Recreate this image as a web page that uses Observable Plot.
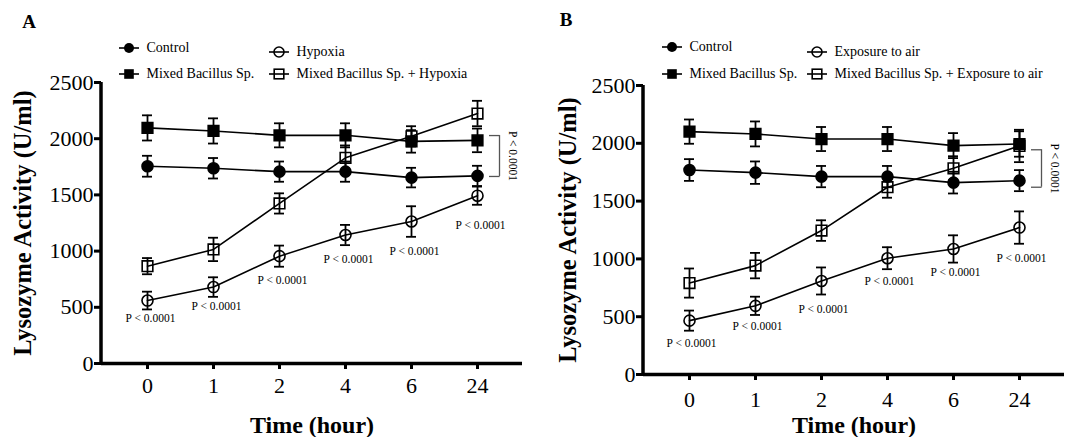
<!DOCTYPE html>
<html>
<head>
<meta charset="utf-8">
<script src="https://cdn.jsdelivr.net/npm/d3@7"></script>
<script src="https://cdn.jsdelivr.net/npm/@observablehq/plot@0.6"></script>
<style>
  body { margin: 0; background: #fff; }
  #wrap { position: relative; width: 1072px; height: 437px; overflow: hidden; background: #fff;
          font-family: "Liberation Serif", "Times New Roman", serif; color: #000; }
  .panel { position: absolute; top: 0; }
  .letter { position: absolute; font-weight: bold; font-size: 19px; line-height: 19px; transform: translate(-50%, -50%); }
  .leg { position: absolute; height: 16px; display: flex; align-items: center; white-space: nowrap; font-size: 14px; }
  .leg span { margin-left: 6.5px; }
</style>
</head>
<body>
<div id="wrap"></div>
<script>
// ---------------- data ----------------
const times = ["0", "1", "2", "4", "6", "24"];
const yTicks = [0, 500, 1000, 1500, 2000, 2500];
const pText = "P < 0.0001";

// Panel A
const seriesA = ["Control", "Mixed Bacillus Sp.", "Hypoxia", "Mixed Bacillus Sp. + Hypoxia"];
const controlA = [1755, 1737, 1707, 1707, 1654, 1669];
const controlAErr = [93, 91, 90, 90, 87, 90];
const mixedA = [2096, 2069, 2030, 2030, 1976, 1985];
const mixedAErr = [112, 112, 107, 107, 100, 105];
const hypoxiaA = [560, 680, 955, 1143, 1263, 1493];
const hypoxiaAErr = [79, 87, 94, 90, 136, 81];
const mixedHypoxiaA = [866, 1015, 1424, 1830, 2021, 2224];
const mixedHypoxiaAErr = [72, 104, 90, 110, 90, 113];
const pLabelYA = [399, 512, 741, 925, 996, 1231];
const bracketA = [1664, 2028];

// Panel B
const seriesB = ["Control", "Mixed Bacillus Sp.", "Exposure to air", "Mixed Bacillus Sp. + Exposure to air"];
const controlB = [1769, 1746, 1712, 1712, 1660, 1677];
const controlBErr = [94, 97, 92, 92, 94, 91];
const mixedB = [2101, 2081, 2037, 2037, 1980, 1994];
const mixedBErr = [105, 108, 104, 104, 108, 110];
const airB = [466, 594, 809, 1006, 1086, 1271];
const airBErr = [87, 79, 117, 95, 118, 140];
const mixedAirB = [791, 942, 1245, 1620, 1784, 1977];
const mixedAirBErr = [126, 110, 89, 91, 104, 140];
const pLabelYB = [272, 415, 565, 809, 885, 1005];
const bracketB = [1620, 1944];

// ---------------- helpers ----------------
const kinds = ["filledCircle", "filledSquare", "openCircle", "openSquare"];

function rows(names, means, errs) {
  const out = [];
  names.forEach((name, s) => {
    times.forEach((t, i) => out.push({series: name, kind: kinds[s], time: t, mean: means[s][i], err: errs[s][i]}));
  });
  return out;
}

function panel(cfg) {
  const data = rows(cfg.names, cfg.means, cfg.errs);
  const pData = times.map((t, i) => ({time: t, y: cfg.pY[i]}));
  const last = times[times.length - 1];
  const br = [{time: last, y1: cfg.bracket[0], y2: cfg.bracket[1]}];
  const plotW = cfg.width - cfg.mL - cfg.mR;
  const dots = (kind, symbol, fill, r) =>
    Plot.dot(data.filter(d => d.kind === kind), {x: "time", y: "mean", symbol, r,
      fill, stroke: "black", strokeWidth: 1.6});
  const cap = (yf) => Plot.ruleY(data, {x1: "time", x2: "time", y: yf, insetLeft: -5, insetRight: -5, stroke: "black", strokeWidth: 1.8});
  return Plot.plot({
    width: cfg.width, height: cfg.height,
    marginLeft: cfg.mL, marginRight: cfg.mR, marginTop: cfg.mT, marginBottom: cfg.mB,
    style: {fontFamily: '"Liberation Serif", "Times New Roman", serif', fontSize: "22px", background: "white", color: "black", overflow: "visible"},
    x: {type: "point", domain: times, padding: 0.675},
    y: {domain: [0, 2500]},
    marks: [
      Plot.axisY({ticks: yTicks, tickFormat: d => String(d), tickSize: 7, tickPadding: 1, strokeWidth: 3, fontSize: 22, label: null}),
      Plot.axisX({tickSize: 6, tickPadding: cfg.xPad, strokeWidth: 3, fontSize: 22, label: null}),
      Plot.rect([0], {y1: 0, y2: 2500, insetLeft: -1.75, insetRight: plotW - 1.75, fill: "black"}),
      Plot.ruleY([0], {strokeWidth: 3.5}),
      Plot.text(["Lysozyme Activity (U/ml)"], {text: d => d, frameAnchor: "left", rotate: -90, dx: cfg.yTitleDx,
        textAnchor: "middle", lineAnchor: "middle", fontWeight: "bold", fontSize: 24.5}),
      Plot.text(["Time (hour)"], {text: d => d, frameAnchor: "bottom", dy: cfg.xTitleDy,
        textAnchor: "middle", lineAnchor: "middle", fontWeight: "bold", fontSize: 24}),
      Plot.line(data, {x: "time", y: "mean", z: "series", stroke: "black", strokeWidth: 1.6}),
      Plot.ruleX(data, {x: "time", y1: d => d.mean - d.err, y2: d => d.mean + d.err, stroke: "black", strokeWidth: 1.8}),
      cap(d => d.mean + d.err),
      cap(d => d.mean - d.err),
      dots("filledCircle", "circle", "black", 5.5),
      dots("filledSquare", "square", "black", 6),
      dots("openCircle", "circle", "none", 5.5),
      dots("openSquare", "square", "none", 6),
      Plot.text(pData, {x: "time", y: "y", text: () => pText, fontSize: 11.5, dx: cfg.pDx}),
      Plot.ruleX(br, {x: "time", y1: "y1", y2: "y2", dx: 22, stroke: "#555", strokeWidth: 1.3}),
      Plot.ruleY(br, {x1: "time", x2: "time", y: "y1", insetLeft: 12, insetRight: -22.6, stroke: "#555", strokeWidth: 1.3}),
      Plot.ruleY(br, {x1: "time", x2: "time", y: "y2", insetLeft: 12, insetRight: -22.6, stroke: "#555", strokeWidth: 1.3}),
      Plot.text(br, {x: "time", y: d => (d.y1 + d.y2) / 2, text: () => pText, rotate: 90, dx: 35, fontSize: 11.5})
    ]
  });
}

const wrap = document.getElementById("wrap");

function addPanel(left, cfg) {
  const div = document.createElement("div");
  div.className = "panel";
  div.style.left = left + "px";
  div.appendChild(panel(cfg));
  wrap.appendChild(div);
}

addPanel(0, {
  names: seriesA, means: [controlA, mixedA, hypoxiaA, mixedHypoxiaA],
  errs: [controlAErr, mixedAErr, hypoxiaAErr, mixedHypoxiaAErr],
  pY: pLabelYA, bracket: bracketA,
  width: 536, height: 437, mL: 101, mR: 14, mT: 82, mB: 74,
  xPad: 8, yTitleDx: -78, xTitleDy: 62, pDx: 3
});
addPanel(536, {
  names: seriesB, means: [controlB, mixedB, airB, mixedAirB],
  errs: [controlBErr, mixedBErr, airBErr, mixedAirBErr],
  pY: pLabelYB, bracket: bracketB,
  width: 536, height: 437, mL: 107, mR: 8, mT: 85, mB: 63,
  xPad: 11, yTitleDx: -75, xTitleDy: 51, pDx: 2
});

// panel letters
[["A", 29, 21], ["B", 566, 19]].forEach(([t, x, y]) => {
  const d = document.createElement("div");
  d.className = "letter"; d.textContent = t;
  d.style.left = x + "px"; d.style.top = y + "px";
  wrap.appendChild(d);
});

// legends
function icon(kind) {
  const line = '<line x1="1" x2="21" y1="8" y2="8" stroke="black" stroke-width="1.6"/>';
  let m;
  if (kind === "filledCircle") m = '<circle cx="11" cy="8" r="5" fill="black"/>';
  else if (kind === "filledSquare") m = '<rect x="6.2" y="3.2" width="9.6" height="9.6" fill="black"/>';
  else if (kind === "openCircle") m = '<circle cx="11" cy="8" r="5" fill="none" stroke="black" stroke-width="1.6"/>';
  else m = '<rect x="6.2" y="3.2" width="9.6" height="9.6" fill="none" stroke="black" stroke-width="1.6"/>';
  return `<svg width="22" height="16" style="display:block">${line}${m}</svg>`;
}
function legend(names, cols, rowsY) {
  const pos = [[cols[0], rowsY[0]], [cols[0], rowsY[1]], [cols[1], rowsY[2]], [cols[1], rowsY[3]]];
  names.forEach((name, s) => {
    const d = document.createElement("div");
    d.className = "leg";
    d.style.left = (pos[s][0] - 11) + "px";
    d.style.top = (pos[s][1] - 8) + "px";
    d.innerHTML = icon(kinds[s]) + `<span>${name}</span>`;
    wrap.appendChild(d);
  });
}
legend(seriesA, [129, 279], [47.5, 74, 51.5, 74]);
legend(seriesB, [672, 817], [46.7, 74.3, 51.8, 74.3]);
</script>
</body>
</html>
